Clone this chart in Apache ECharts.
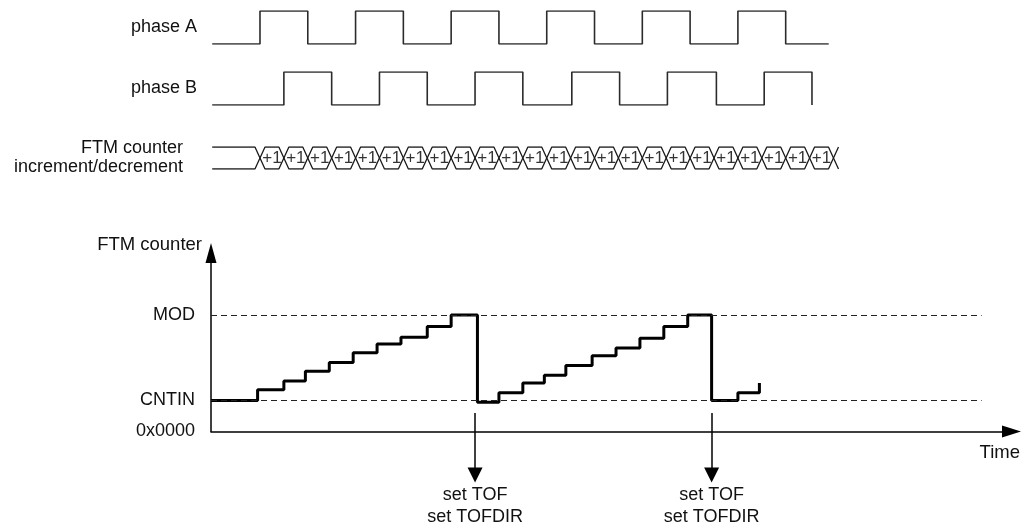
<!DOCTYPE html>
<html>
<head>
<meta charset="utf-8">
<title>FTM counter - quadrature decoder</title>
<script src="https://cdn.jsdelivr.net/npm/echarts@6/dist/echarts.min.js"></script>
<style>
  html, body { margin: 0; padding: 0; background: #fff; }
  #chart { width: 1026px; height: 524px; }
</style>
</head>
<body>
<div id="chart"></div>
<script>
// time unit = one quadrature edge, phase A first rises at t = 0
const phaseAEdges = [0, 2, 4, 6, 8, 10, 12, 14, 16, 18, 20, 22];
const phaseAEnd = 23.8;
const phaseBEdges = [1, 3, 5, 7, 9, 11, 13.05, 15.05, 17.05, 19.1, 21.1, 23.1];
const traceStart = -2;

// counter increment/decrement bus
const busCrossings = [0, 1, 2, 3, 4, 5, 6, 7, 8, 9, 10, 11, 12, 13, 14, 15, 16, 17, 18, 19, 20, 21, 22, 23, 24];
const busLabels = ['+1', '+1', '+1', '+1', '+1', '+1', '+1', '+1', '+1', '+1', '+1', '+1',
  '+1', '+1', '+1', '+1', '+1', '+1', '+1', '+1', '+1', '+1', '+1', '+1'];

// FTM counter (value after each step)
const counterTimes = [-2.05, -0.1, 1.0, 1.9, 2.9, 3.9, 4.9, 5.9, 7.0, 8.0, 9.1, 10.0, 11.0, 11.9, 12.8, 13.9, 14.9, 15.9, 16.9, 17.9, 18.9, 20.0, 20.9];
const counterValues = [3.2, 4.3, 5.2, 6.2, 7.1, 8.1, 9.0, 9.7, 10.8, 12.0, 3.0, 4.0, 5.0, 5.8, 6.8, 7.8, 8.6, 9.6, 10.8, 12.0, 3.2, 4.0, 5.0];

const levelNames = ['0x0000', 'CNTIN', 'MOD'];
const levelValues = [0, 3.2, 12];
const dashedLevels = [3.2, 12];
const dashedEnd = 30.2;

// overflow flags
const flagTimes = [9.0, 18.9];
const flagText = 'set TOF\nset TOFDIR';

const T_MIN = -2.05, T_MAX = 31.45;
const BUS_SLANT = 0.21;
const FONT = 'Liberation Sans, Arial, Helvetica, sans-serif';
const TEXT = '#111';

function stepTrace(edges, end) {
  let lvl = 0;
  const pts = [[traceStart, lvl]];
  edges.forEach((t) => {
    lvl = 1 - lvl;
    pts.push([t, lvl]);
  });
  if (end != null) pts.push([end, lvl]);
  return pts;
}

function busTrace(startLevel) {
  let lvl = startLevel;
  const pts = [[traceStart, lvl]];
  busCrossings.forEach((c) => {
    pts.push([c - BUS_SLANT, lvl]);
    lvl = 1 - lvl;
    pts.push([c + BUS_SLANT, lvl]);
  });
  return pts;
}

const chart = echarts.init(document.getElementById('chart'));

const hiddenX = (i) => ({
  type: 'value', gridIndex: i, min: T_MIN, max: T_MAX, show: false,
});
const labelY = (i, name, gap, padding) => ({
  type: 'value', gridIndex: i, min: 0, max: 1,
  axisLine: { show: false }, axisTick: { show: false },
  axisLabel: { show: false }, splitLine: { show: false },
  name: name, nameLocation: 'middle', nameRotate: 0, nameGap: gap,
  nameTextStyle: {
    fontFamily: FONT, fontSize: 18, color: TEXT, align: 'right',
    lineHeight: 19, padding: padding,
  },
});

const option = {
  animation: false,
  grid: [
    { left: 211, right: 14.5, top: 11, height: 33 },
    { left: 211, right: 14.5, top: 72, height: 33 },
    { left: 211, right: 14.5, top: 147, height: 22 },
    { left: 211, right: 14.5, top: 253, height: 178.5 },
    { left: 211, right: 14.5, top: 253, bottom: 0 },
  ],
  xAxis: [
    hiddenX(0), hiddenX(1), hiddenX(2),
    {
      type: 'value', gridIndex: 3, min: T_MIN, max: T_MAX,
      axisLine: {
        onZero: false,
        symbol: ['none', 'triangle'], symbolSize: [12, 19],
        lineStyle: { color: '#000', width: 1.5 },
      },
      axisTick: { show: false }, axisLabel: { show: false }, splitLine: { show: false },
      name: 'Time', nameLocation: 'end', nameGap: 8.5,
      nameTextStyle: {
        fontFamily: FONT, fontSize: 18.5, color: TEXT,
        align: 'right', verticalAlign: 'top', padding: [12, 0, 0, 0],
      },
    },
    hiddenX(4),
  ],
  yAxis: [
    labelY(0, 'phase A', 14, [0, 0, 4, 0]),
    labelY(1, 'phase B', 14, [10, 0, 0, 0]),
    labelY(2, 'FTM counter\nincrement/decrement', 28, [15, 0, 0, 0]),
    {
      type: 'value', gridIndex: 3, min: 0, max: 18.37,
      axisLine: {
        show: true, onZero: false,
        symbol: ['none', 'triangle'], symbolSize: [11, 20],
        lineStyle: { color: '#000', width: 1.5 },
      },
      axisTick: { show: false }, splitLine: { show: false },
      axisLabel: {
        customValues: levelValues,
        formatter: (v) => levelNames[levelValues.indexOf(v)] || '',
        margin: 16, fontFamily: FONT, fontSize: 18, color: TEXT,
      },
      name: 'FTM counter', nameLocation: 'end', nameGap: 8,
      nameTextStyle: {
        fontFamily: FONT, fontSize: 18.5, color: TEXT,
        align: 'right', verticalAlign: 'middle', padding: [0, 9, 0, 0],
      },
    },
    { type: 'value', gridIndex: 4, min: -9.52, max: 18.37, show: false },
  ],
  series: [
    {
      name: 'phase A', type: 'line', xAxisIndex: 0, yAxisIndex: 0,
      step: 'end', symbol: 'none', silent: true,
      lineStyle: { color: '#2b2b2b', width: 1.6 },
      data: stepTrace(phaseAEdges, phaseAEnd),
    },
    {
      name: 'phase B', type: 'line', xAxisIndex: 1, yAxisIndex: 1,
      step: 'end', symbol: 'none', silent: true,
      lineStyle: { color: '#2b2b2b', width: 1.6 },
      data: stepTrace(phaseBEdges, null),
    },
    {
      name: 'bus top', type: 'line', xAxisIndex: 2, yAxisIndex: 2,
      symbol: 'none', silent: true,
      lineStyle: { color: '#1a1a1a', width: 1.3 },
      data: busTrace(1),
    },
    {
      name: 'bus bottom', type: 'line', xAxisIndex: 2, yAxisIndex: 2,
      symbol: 'none', silent: true,
      lineStyle: { color: '#1a1a1a', width: 1.3 },
      data: busTrace(0),
    },
    {
      name: 'bus text', type: 'scatter', xAxisIndex: 2, yAxisIndex: 2,
      symbolSize: 0, silent: true,
      label: {
        show: true, position: 'inside', formatter: '{b}',
        fontFamily: FONT, fontSize: 17, color: '#000',
      },
      data: busLabels.map((txt, i) => ({
        name: txt,
        value: [(busCrossings[i] + busCrossings[i + 1]) / 2, 0.5],
      })),
    },
    {
      name: 'FTM counter', type: 'line', xAxisIndex: 3, yAxisIndex: 3,
      step: 'end', symbol: 'none', silent: true,
      lineStyle: { color: '#000', width: 3 },
      data: counterTimes.map((t, i) => [t, counterValues[i]]),
      markLine: {
        silent: true, symbol: ['none', 'none'],
        label: { show: false },
        lineStyle: { color: '#222', width: 1, type: [6, 4] },
        data: dashedLevels.map((v) => [{ coord: [T_MIN, v] }, { coord: [dashedEnd, v] }]),
      },
    },
    {
      name: 'flags', type: 'line', xAxisIndex: 4, yAxisIndex: 4,
      symbol: 'none', silent: true, data: [],
      markLine: {
        silent: true,
        symbol: ['none', 'triangle'], symbolSize: 15,
        lineStyle: { color: '#000', width: 1.5, type: 'solid' },
        itemStyle: { color: '#000' },
        label: {
          show: true, position: 'end', distance: 9, formatter: flagText,
          fontFamily: FONT, fontSize: 18, lineHeight: 22, color: TEXT,
        },
        data: flagTimes.map((t) => [{ coord: [t, 1.9] }, { coord: [t, -4.48] }]),
      },
    },
  ],
};

chart.setOption(option);
</script>
</body>
</html>
